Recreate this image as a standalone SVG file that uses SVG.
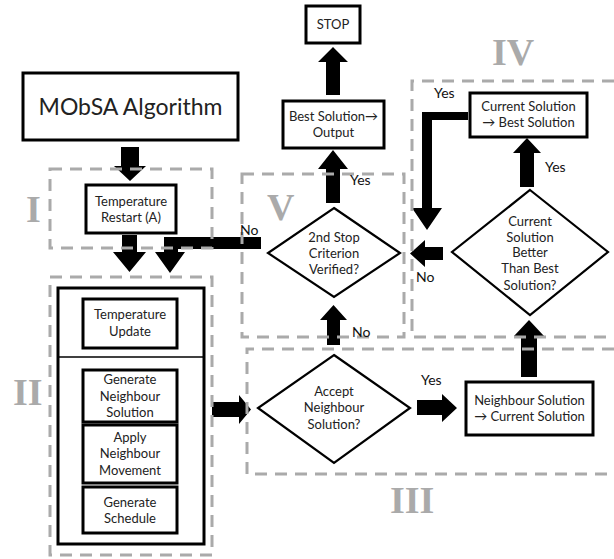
<svg xmlns="http://www.w3.org/2000/svg" width="614" height="559" viewBox="0 0 614 559">
<style>
.bx{fill:#fff;stroke:#000;stroke-width:3}
.dm{fill:#fff;stroke:#000;stroke-width:2.2}
.ar{fill:#000}
.dash{fill:none;stroke:#aaa;stroke-width:3;stroke-dasharray:12 8}
.t{font-family:Lato,"Open Sans","Liberation Sans",sans-serif;font-size:13px;fill:#222;text-anchor:middle}
.lb{font-family:Lato,"Open Sans","Liberation Sans",sans-serif;font-size:14px;fill:#111}
.rn{font-family:"Liberation Serif","DejaVu Serif",serif;font-weight:bold;font-size:38px;fill:#aaa}
</style>
<rect width="614" height="559" fill="#fff"/>
<g id="connectors">
<polygon class="ar" points="121,147 139,147 139,166 146,166 130,181 114,166 121,166"/>
<polygon class="ar" points="122,235 137,235 137,252 146,252 129.5,272 113,252 122,252"/>
<polygon class="ar" points="261,237 261,249 178,249 178,252 185,252 170,273 155,252 164,252 164,237"/>
<polygon class="ar" points="326,95 340,95 340,62 348,62 333,47 318,62 326,62"/>
<polygon class="ar" points="326,203 340,203 340,169 348,169 333,150 318,169 326,169"/>
<polygon class="ar" points="468,112 468,120 432,120 432,208 442,208 427,230 412,208 422,208 422,112"/>
<polygon class="ar" points="443,247 443,260 425,260 425,267 410,253.5 425,240 425,247"/>
<polygon class="ar" points="521,377 537,377 537,336 544,336 529,320 514,336 521,336"/>
<polygon class="ar" points="520,187 534,187 534,153 541,153 527,138 513,153 520,153"/>
<polygon class="ar" points="327,345 340,345 340,320 347,320 333.5,305 320,320 327,320"/>
<polygon class="ar" points="417,400 442,400 442,394 457,408 442,422 442,415 417,415"/>
<polygon class="ar" points="212,402 239,402 239,395 251,409.5 239,424 239,417 212,417"/>
</g>
<g id="mobsa"><rect class="bx" x="23" y="73" width="215" height="67" stroke-width="2.5"/><text class="t" x="130.5" y="115" style="font-size:23px">MObSA Algorithm</text></g>
<g id="restart"><rect class="bx" x="86" y="185" width="90" height="48"/><text class="t" x="131" y="206">Temperature</text><text class="t" x="131" y="222">Restart (A)</text></g>
<g id="stop"><rect class="bx" x="306" y="6" width="54" height="37"/><text class="t" x="333" y="29">STOP</text></g>
<g id="best-output"><rect class="bx" x="283" y="101" width="101" height="47"/><text class="t" x="333.5" y="121">Best Solution→</text><text class="t" x="333.5" y="137">Output</text></g>
<g id="current-best"><rect class="bx" x="470" y="93" width="117" height="44"/><text class="t" x="528.5" y="111">Current Solution</text><text class="t" x="528.5" y="127">→ Best Solution</text></g>
<g id="stop-criterion"><polygon class="dm" points="334,208 400,253 334,297 268,253"/><text class="t" x="334" y="242">2nd Stop</text><text class="t" x="334" y="258">Criterion</text><text class="t" x="334" y="274">Verified?</text></g>
<g id="better"><polygon class="dm" points="530,190 608,252 530,315 452,252"/><text class="t" x="530" y="226">Current</text><text class="t" x="530" y="242">Solution</text><text class="t" x="530" y="257">Better</text><text class="t" x="530" y="273">Than Best</text><text class="t" x="530" y="290">Solution?</text></g>
<g id="accept"><polygon class="dm" points="334,355 410,408 334,463 258,408"/><text class="t" x="334" y="396">Accept</text><text class="t" x="334" y="412">Neighbour</text><text class="t" x="334" y="429">Solution?</text></g>
<g id="neighbour-current"><rect class="bx" x="466" y="382" width="127" height="53"/><text class="t" x="529.5" y="405">Neighbour Solution</text><text class="t" x="529.5" y="421">→ Current Solution</text></g>
<g id="loop">
<rect class="bx" x="58" y="288" width="146" height="256" stroke-width="2.5"/>
<line x1="58" y1="357" x2="204" y2="357" stroke="#000" stroke-width="1.5"/>
</g>
<g id="temp-update"><rect class="bx" x="83" y="299" width="94" height="49"/><text class="t" x="130" y="319">Temperature</text><text class="t" x="130" y="336">Update</text></g>
<g id="gen-neighbour"><rect class="bx" x="83" y="370" width="94" height="52"/><text class="t" x="130" y="384">Generate</text><text class="t" x="130" y="401">Neighbour</text><text class="t" x="130" y="417">Solution</text></g>
<g id="apply-move"><rect class="bx" x="83" y="425" width="94" height="58"/><text class="t" x="130" y="442">Apply</text><text class="t" x="130" y="458">Neighbour</text><text class="t" x="130" y="475">Movement</text></g>
<g id="gen-schedule"><rect class="bx" x="83" y="487" width="94" height="46"/><text class="t" x="130" y="507">Generate</text><text class="t" x="130" y="523">Schedule</text></g>
<g id="regions">
<rect class="dash" x="50" y="169" width="162" height="79"/>
<rect class="dash" x="50" y="277" width="162" height="278"/>
<rect class="dash" x="242" y="174" width="162" height="163"/>
<polyline class="dash" points="614,81 412,81 412,337 614,337"/>
<polyline class="dash" points="614,349 247,349 247,474 614,474"/>
</g>
<g id="labels">
<text class="lb" x="240" y="235">No</text>
<text class="lb" x="350" y="185">Yes</text>
<text class="lb" x="434" y="98">Yes</text>
<text class="lb" x="545" y="172">Yes</text>
<text class="lb" x="416" y="282">No</text>
<text class="lb" x="352" y="337">No</text>
<text class="lb" x="421" y="385">Yes</text>
</g>
<g id="region-names">
<text class="rn" x="26" y="222">I</text>
<text class="rn" x="13" y="405">II</text>
<text class="rn" x="390" y="513">III</text>
<text class="rn" x="492" y="65">IV</text>
<text class="rn" x="267" y="220">V</text>
</g>
</svg>
